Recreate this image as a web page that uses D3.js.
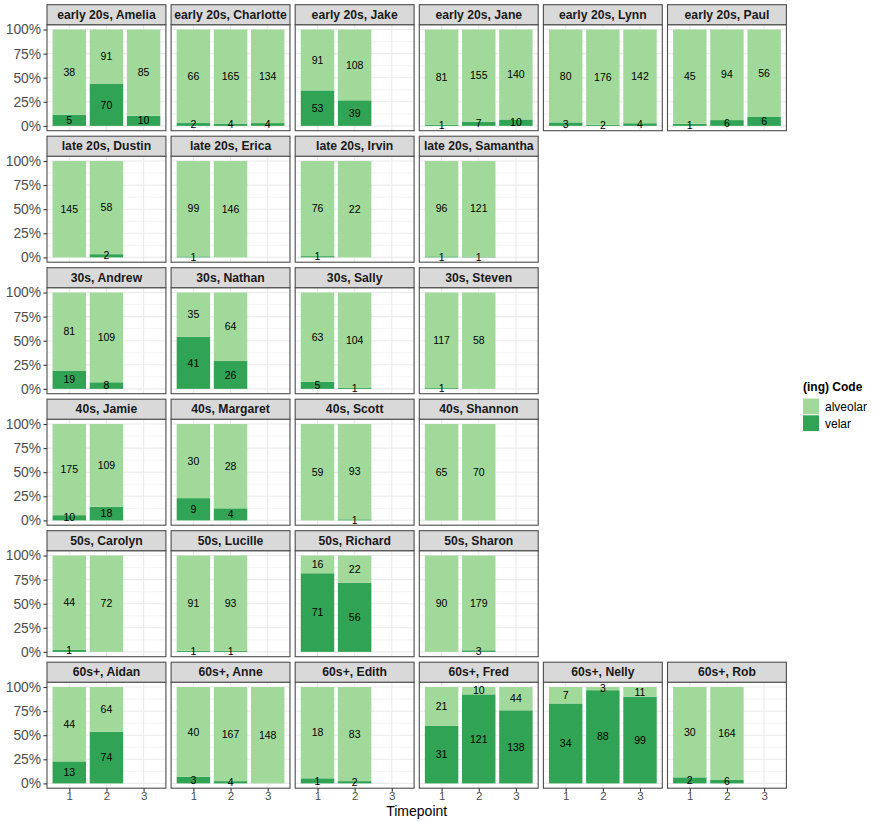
<!DOCTYPE html>
<html>
<head>
<meta charset="utf-8">
<script src="https://cdn.jsdelivr.net/npm/d3@7"></script>
<style>
  html, body { margin: 0; padding: 0; background: #fff; }
  svg { display: block; font-family: "Liberation Sans", Arial, sans-serif; }
</style>
</head>
<body>
<svg id="chart" width="875" height="822"></svg>
<script>
// Facet layout: one row per age group, panels listed left to right
const facetRows = [
  ["early 20s, Amelia", "early 20s, Charlotte", "early 20s, Jake", "early 20s, Jane", "early 20s, Lynn", "early 20s, Paul"],
  ["late 20s, Dustin", "late 20s, Erica", "late 20s, Irvin", "late 20s, Samantha"],
  ["30s, Andrew", "30s, Nathan", "30s, Sally", "30s, Steven"],
  ["40s, Jamie", "40s, Margaret", "40s, Scott", "40s, Shannon"],
  ["50s, Carolyn", "50s, Lucille", "50s, Richard", "50s, Sharon"],
  ["60s+, Aidan", "60s+, Anne", "60s+, Edith", "60s+, Fred", "60s+, Nelly", "60s+, Rob"]
];

// Token counts per speaker at timepoints 1, 2, 3 (null = not recorded)
const alveolarCounts = [
  [[38, 91, 85], [66, 165, 134], [91, 108, null], [81, 155, 140], [80, 176, 142], [45, 94, 56]],
  [[145, 58, null], [99, 146, null], [76, 22, null], [96, 121, null]],
  [[81, 109, null], [35, 64, null], [63, 104, null], [117, 58, null]],
  [[175, 109, null], [30, 28, null], [59, 93, null], [65, 70, null]],
  [[44, 72, null], [91, 93, null], [16, 22, null], [90, 179, null]],
  [[44, 64, null], [40, 167, 148], [18, 83, null], [21, 10, 44], [7, 3, 11], [30, 164, null]]
];
const velarCounts = [
  [[5, 70, 10], [2, 4, 4], [53, 39, null], [1, 7, 10], [3, 2, 4], [1, 6, 6]],
  [[0, 2, null], [1, 0, null], [1, 0, null], [1, 1, null]],
  [[19, 8, null], [41, 26, null], [5, 1, null], [1, 0, null]],
  [[10, 18, null], [9, 4, null], [0, 1, null], [0, 0, null]],
  [[1, 0, null], [1, 1, null], [71, 56, null], [0, 3, null]],
  [[13, 74, null], [3, 4, 0], [1, 2, null], [31, 121, 138], [34, 88, 99], [2, 6, null]]
];

const timepoints = [1, 2, 3];
const yTicks = [0, 0.25, 0.5, 0.75, 1];
const yMinor = [0.125, 0.375, 0.625, 0.875];
const codeLevels = ["alveolar", "velar"];
const codeColors = ["#A1D99B", "#31A354"];

const svg = d3.select("#chart");
svg.append("rect").attr("width", 875).attr("height", 822).attr("fill", "#fff");

const color = d3.scaleOrdinal().domain(codeLevels).range(codeColors);

// Panel geometry
const firstLeft = 47, colPitch = 124.1, panelW = 118.9;
const firstTop = 4.7, rowPitch = 131.5, stripH = 20, panelH = 106;
const nRows = facetRows.length;

facetRows.forEach((row, r) => {
  row.forEach((label, c) => {
    const left = firstLeft + c * colPitch;
    const stripTop = firstTop + r * rowPitch;
    const top = stripTop + stripH;
    const bottom = top + panelH;

    const x = d3.scaleLinear().domain([0.4, 3.6]).range([left, left + panelW]);
    const y = d3.scaleLinear().domain([-0.05, 1.05]).range([bottom, top]);

    const g = svg.append("g");

    // grid
    g.selectAll(".minor").data(yMinor).join("line")
      .attr("x1", left).attr("x2", left + panelW)
      .attr("y1", d => y(d)).attr("y2", d => y(d))
      .attr("stroke", "#EBEBEB").attr("stroke-width", 0.55);
    g.selectAll(".majorY").data(yTicks).join("line")
      .attr("x1", left).attr("x2", left + panelW)
      .attr("y1", d => y(d)).attr("y2", d => y(d))
      .attr("stroke", "#EBEBEB").attr("stroke-width", 1.1);
    g.selectAll(".majorX").data(timepoints).join("line")
      .attr("x1", d => x(d)).attr("x2", d => x(d))
      .attr("y1", top).attr("y2", bottom)
      .attr("stroke", "#EBEBEB").attr("stroke-width", 1.1);

    // stacked proportion bars
    const alv = alveolarCounts[r][c];
    const vel = velarCounts[r][c];
    const segs = [];
    timepoints.forEach((t, i) => {
      if (alv[i] == null) return;
      const total = alv[i] + vel[i];
      const vShare = vel[i] / total;
      segs.push({ t, code: "velar", n: vel[i], y0: 0, y1: vShare });
      segs.push({ t, code: "alveolar", n: alv[i], y0: vShare, y1: 1 });
    });

    g.selectAll(".bar").data(segs.filter(d => d.n > 0)).join("rect")
      .attr("x", d => x(d.t - 0.45))
      .attr("width", d => x(d.t + 0.45) - x(d.t - 0.45))
      .attr("y", d => y(d.y1))
      .attr("height", d => y(d.y0) - y(d.y1))
      .attr("fill", d => color(d.code));

    g.selectAll(".lab").data(segs.filter(d => d.n > 0)).join("text")
      .attr("x", d => x(d.t))
      .attr("y", d => y((d.y0 + d.y1) / 2))
      .attr("dy", "0.35em")
      .attr("text-anchor", "middle")
      .attr("font-size", 10.5)
      .attr("fill", "#000")
      .text(d => d.n);

    // panel border
    g.append("rect")
      .attr("x", left).attr("y", top).attr("width", panelW).attr("height", panelH)
      .attr("fill", "none").attr("stroke", "#4D4D4D").attr("stroke-width", 1.1);

    // strip
    g.append("rect")
      .attr("x", left).attr("y", stripTop).attr("width", panelW).attr("height", stripH)
      .attr("fill", "#D9D9D9").attr("stroke", "#4D4D4D").attr("stroke-width", 1.1);
    g.append("text")
      .attr("x", left + panelW / 2).attr("y", stripTop + stripH / 2)
      .attr("dy", "0.35em").attr("text-anchor", "middle")
      .attr("font-size", 12.2).attr("font-weight", "bold").attr("fill", "#1A1A1A")
      .text(label);

    // y axis on first column
    if (c === 0) {
      const ax = g.append("g").attr("transform", `translate(${left},0)`)
        .call(d3.axisLeft(y).tickValues(yTicks).tickFormat(d3.format(".0%"))
          .tickSize(3.5).tickPadding(2.5));
      ax.select(".domain").remove();
      ax.selectAll(".tick line").attr("stroke", "#333").attr("stroke-width", 1.1);
      ax.selectAll(".tick text").attr("fill", "#4D4D4D")
        .attr("font-size", 13.8).attr("font-family", "Liberation Sans, Arial, sans-serif");
    }

    // x axis on bottom row
    if (r === nRows - 1) {
      const ax = g.append("g").attr("transform", `translate(0,${bottom})`)
        .call(d3.axisBottom(x).tickValues(timepoints).tickFormat(d3.format("d"))
          .tickSize(3.5));
      ax.select(".domain").remove();
      ax.selectAll(".tick line").attr("stroke", "#333").attr("stroke-width", 1.1);
      ax.selectAll(".tick text").attr("fill", "#4D4D4D")
        .attr("y", 12).attr("dy", null)
        .attr("font-size", 11.5).attr("font-family", "Liberation Sans, Arial, sans-serif");
    }
  });
});

// x axis title
svg.append("text")
  .attr("x", firstLeft + (5 * colPitch + panelW) / 2)
  .attr("y", 816)
  .attr("text-anchor", "middle").attr("font-size", 14).attr("fill", "#000")
  .text("Timepoint");

// legend
const legend = svg.append("g").attr("transform", "translate(803,0)");
legend.append("text")
  .attr("x", 0).attr("y", 387).attr("dy", "0.35em")
  .attr("font-size", 12).attr("font-weight", "bold").attr("fill", "#000")
  .text("(ing) Code");
codeLevels.forEach((lvl, i) => {
  const ky = 398.5 + i * 16.8;
  legend.append("rect")
    .attr("x", 0).attr("y", ky).attr("width", 16).attr("height", 15.8)
    .attr("fill", color(lvl));
  legend.append("text")
    .attr("x", 22).attr("y", ky + 8).attr("dy", "0.35em")
    .attr("font-size", 12).attr("fill", "#000")
    .text(lvl);
});
</script>
</body>
</html>
